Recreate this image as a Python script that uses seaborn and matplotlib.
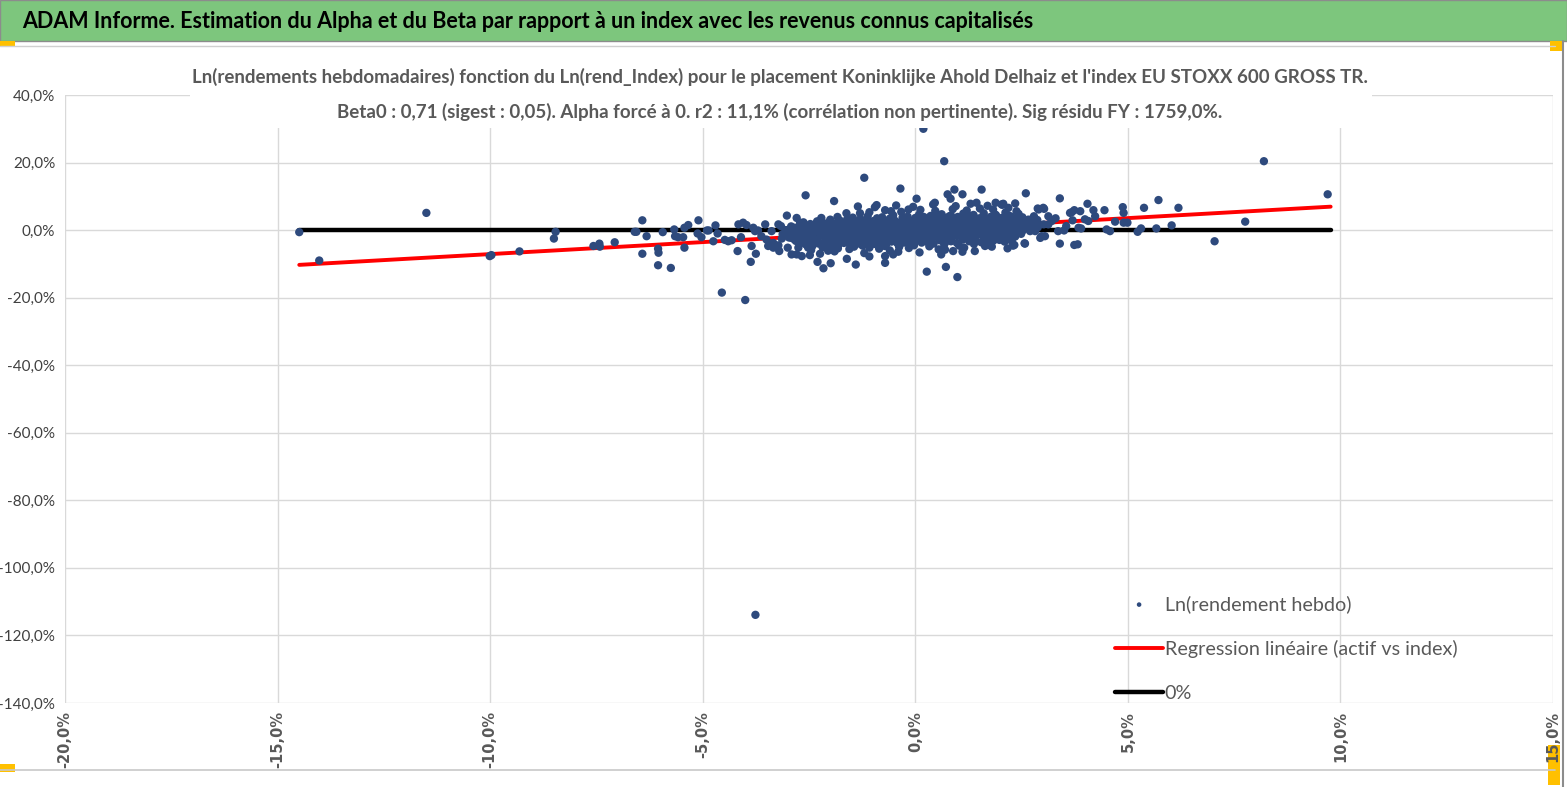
import matplotlib
matplotlib.use('Agg')
import matplotlib.pyplot as plt
from matplotlib.patches import Rectangle
from matplotlib.lines import Line2D
from matplotlib.ticker import FuncFormatter
import pandas as pd
import seaborn as sns

# weekly log returns of the index (x, %) and of the asset (y, %)
# dense cloud around zero
cloud_x = [
    -1.62, -1.08, -0.71, -0.33, 0.12, 0.47, 0.88, 1.21, 1.52, 1.83, 2.19,
    -2.21, -1.83, -1.47, -1.12, -0.78, -0.52, -0.18, 0.09, 0.36, 0.62, 0.84, 1.13, 1.37, 1.61, 1.88, 2.12, 2.43,
    -2.63, -2.31, -2.02, -1.77, -1.49, -1.26, -0.98, -0.77, -0.49, -0.24, 0.03, 0.27, 0.52, 0.73, 1.02, 1.24,
    1.51, 1.77, 2.03, 2.26, 2.52, 2.79,
    -2.92, -2.66, -2.41, -2.14, -1.91, -1.63, -1.42, -1.16, -0.89, -0.66, -0.41, -0.13, 0.11, 0.34, 0.62, 0.86,
    1.09, 1.36, 1.58, 1.87, 2.11, 2.34, 2.61, 2.87,
    -3.04, -2.77, -2.49, -2.26, -1.98, -1.74, -1.51, -1.24, -1.01, -0.74, -0.52, -0.26, 0.02, 0.24, 0.51, 0.76,
    0.99, 1.26, 1.49, 1.77, 2.01, 2.24, 2.52, 2.74, 3.02,
    -3.12, -2.88, -2.61, -2.37, -2.12, -1.86, -1.63, -1.37, -1.12, -0.88, -0.63, -0.37, -0.11, 0.13, 0.38, 0.64,
    0.87, 1.12, 1.38, 1.63, 1.88, 2.13, 2.37, 2.62, 2.88,
    -2.97, -2.72, -2.46, -2.23, -1.97, -1.72, -1.48, -1.23, -0.97, -0.73, -0.48, -0.22, 0.03, 0.27, 0.53, 0.77,
    1.02, 1.27, 1.52, 1.77, 2.02, 2.27, 2.53, 2.78,
    -2.81, -2.54, -2.29, -2.03, -1.79, -1.53, -1.28, -1.04, -0.79, -0.53, -0.29, -0.04, 0.21, 0.46, 0.71, 0.96,
    1.21, 1.47, 1.72, 1.96, 2.22, 2.49,
    -2.58, -2.27, -1.96, -1.68, -1.38, -1.09, -0.82, -0.56, -0.27, 0.01, 0.29, 0.57, 0.84, 1.12, 1.41, 1.69,
    1.98, 2.24,
    -2.18, -1.82, -1.44, -1.08, -0.72, -0.38, -0.03, 0.33, 0.68, 1.03, 1.38, 1.74,
    -1.9, -1.2, -0.6, 0.1, 0.7, 1.4,
    -1.35, -0.95, -0.45, -0.05, 0.42, 0.95, 1.3, 1.7, 2.05, 2.35,
    -2.45, -2.05, -1.55, -0.85, -0.15, 0.55, 1.15, 1.8, 2.3,
    -2.0, -1.6, -1.3, -0.9, -0.6, -0.3, 0.0, 0.2, 0.5, 0.8, 1.0, 1.3, 1.6, 1.9, 2.2,
    -2.47, -2.16, -1.89, -1.63, -1.37, -1.12, -0.87, -0.63, -0.36, -0.11, 0.15, 0.39, 0.62, 0.88, 1.13, 1.38,
    1.64, 1.9, 2.14, 2.39, 2.66,
    -2.79, -2.53, -2.27, -2.02, -1.77, -1.52, -1.29, -1.02, -0.77, -0.53, -0.27, -0.01, 0.23, 0.48, 0.74, 0.97,
    1.22, 1.47, 1.72, 1.99, 2.22, 2.48, 2.74,
    -2.9, -2.63, -2.37, -2.12, -1.86, -1.62, -1.37, -1.12, -0.87, -0.63, -0.39, -0.12, 0.13, 0.38, 0.63, 0.88,
    1.12, 1.37, 1.63, 1.89, 2.12, 2.38, 2.63, 2.88,
    -3.0, -2.74, -2.49, -2.24, -1.99, -1.74, -1.5, -1.24, -1.0, -0.75, -0.5, -0.24, 0.01, 0.26, 0.51, 0.76,
    1.0, 1.25, 1.5, 1.76, 2.0, 2.25, 2.5, 2.75,
    -2.85, -2.59, -2.35, -2.1, -1.85, -1.6, -1.36, -1.1, -0.85, -0.6, -0.35, -0.1, 0.15, 0.4, 0.65, 0.9,
    1.15, 1.4, 1.65, 1.9, 2.15, 2.4,
    -2.68, -2.42, -2.16, -1.91, -1.66, -1.41, -1.16, -0.92, -0.66, -0.41, -0.16, 0.09, 0.34, 0.59, 0.84, 1.09,
    1.34, 1.6, 1.84, 2.09, 2.35,
    -2.42, -2.12, -1.82, -1.53, -1.24, -0.96, -0.69, -0.42, -0.13, 0.15, 0.43, 0.71, 0.98, 1.27, 1.55, 1.84, 2.1,
]
cloud_y = [
    5.0, 5.3, 5.9, 5.4, 6.0, 5.7, 6.2, 5.8, 6.4, 6.1, 6.6,
    3.6, 3.9, 3.7, 4.1, 3.8, 4.4, 4.0, 4.6, 4.2, 4.7, 4.3, 4.9, 4.5, 5.0, 4.6, 5.2, 4.8,
    2.3, 2.6, 2.4, 2.8, 2.5, 3.0, 2.7, 3.1, 2.9, 3.3, 3.0, 3.4, 3.2, 3.6, 3.3, 3.7,
    3.5, 3.9, 3.6, 4.0, 3.8, 4.1,
    1.1, 1.4, 1.2, 1.6, 1.3, 1.7, 1.5, 1.9, 1.6, 2.0, 1.8, 2.2, 1.9, 2.3, 2.1, 2.5,
    2.2, 2.6, 2.4, 2.8, 2.5, 2.9, 2.7, 3.0,
    0.0, 0.3, 0.1, 0.5, 0.2, 0.6, 0.4, 0.8, 0.5, 0.9, 0.7, 1.1, 0.8, 1.2, 1.0, 1.4,
    1.1, 1.5, 1.3, 1.7, 1.4, 1.8, 1.6, 1.9, 1.7,
    -1.2, -0.9, -1.1, -0.7, -1.0, -0.5, -0.8, -0.3, -0.6, -0.1, -0.4, 0.1, -0.2, 0.3, 0.0, 0.5,
    0.2, 0.6, 0.4, 0.8, 0.5, 0.9, 0.7, 1.0, 0.8,
    -2.2, -1.9, -2.1, -1.7, -1.9, -1.5, -1.7, -1.3, -1.5, -1.1, -1.3, -0.9, -1.1, -0.7, -0.9, -0.5,
    -0.7, -0.3, -0.5, -0.1, -0.3, 0.1, -0.1, 0.2,
    -3.2, -3.0, -3.3, -2.8, -3.0, -2.6, -2.8, -2.4, -2.6, -2.2, -2.4, -2.0, -2.2, -1.8, -2.0, -1.6,
    -1.8, -1.4, -1.6, -1.2, -1.4, -1.1,
    -4.2, -4.0, -4.4, -3.8, -4.1, -3.6, -3.9, -3.4, -3.7, -3.2, -3.5, -3.0, -3.3, -2.8, -3.1, -2.6,
    -2.9, -2.5,
    -5.1, -5.4, -4.9, -5.2, -4.7, -5.0, -4.5, -4.8, -4.3, -4.6, -4.1, -4.4,
    -6.3, -6.8, -6.0, -6.6, -5.8, -6.2,
    7.0, 6.8, 7.3, 6.9, 7.6, 7.1, 7.8, 7.2, 7.5, 7.9,
    -5.9, -6.1, -5.6, -5.5, -5.3, -5.7, -5.2, -4.9, -4.6,
    3.1, 3.3, 3.2, 3.5, 3.4, 3.7, 3.6, 3.9, 3.8, 4.1, 3.9, 4.2, 4.1, 4.4, 4.3,
    1.8, 2.1, 1.9, 2.3, 2.0, 2.4, 2.2, 2.6, 2.3, 2.7, 2.5, 2.8, 2.6, 3.0, 2.7, 3.1,
    2.9, 3.2, 3.0, 3.4, 3.1,
    0.6, 0.9, 0.7, 1.1, 0.8, 1.2, 1.0, 1.4, 1.1, 1.5, 1.3, 1.7, 1.4, 1.8, 1.6, 2.0,
    1.7, 2.1, 1.9, 2.3, 2.0, 2.4, 2.2,
    -0.6, -0.3, -0.5, -0.1, -0.4, 0.0, -0.2, 0.3, 0.0, 0.4, 0.2, 0.6, 0.3, 0.7, 0.5, 0.9,
    0.6, 1.0, 0.8, 1.2, 0.9, 1.3, 1.1, 1.4,
    -1.7, -1.4, -1.6, -1.2, -1.5, -1.0, -1.3, -0.8, -1.1, -0.6, -0.9, -0.4, -0.7, -0.2, -0.5, 0.0,
    -0.3, 0.2, -0.1, 0.3, 0.0, 0.5, 0.2, 0.4,
    -2.7, -2.5, -2.6, -2.3, -2.4, -2.1, -2.2, -1.9, -2.0, -1.7, -1.8, -1.5, -1.6, -1.3, -1.4, -1.1,
    -1.2, -0.9, -1.0, -0.7, -0.8, -0.6,
    -3.7, -3.5, -3.8, -3.3, -3.5, -3.1, -3.3, -2.9, -3.1, -2.7, -2.9, -2.5, -2.7, -2.3, -2.5, -2.1,
    -2.3, -1.9, -2.1, -1.8, -1.9,
    -4.7, -4.5, -4.8, -4.3, -4.6, -4.1, -4.4, -3.9, -4.2, -3.7, -4.0, -3.5, -3.8, -3.3, -3.6, -3.1, -3.4,
]

# scattered weeks away from the cloud
spread_x = [
    -14.49, -14.02, -11.5, -10.01, -9.97, -9.31, -8.5, -8.46,
    -7.57, -7.43, -7.42, -7.07, -6.6, -6.56, -6.42, -6.32, -6.42, -6.05, -6.04, -6.05, -5.75, -5.94,
    -5.67, -5.65, -5.58, -5.46, -5.43, -5.43, -5.34, -5.1, -5.12, -5.03, -4.9, -4.86, -4.75, -4.7,
    -4.65, -4.55, -4.48, -4.4, -4.32, -4.18, -4.16, -4.05, -4.1, -4.0, -3.97, -3.85, -3.87, -3.75,
    -3.81, -3.77, -3.7, -3.62, -3.53, -3.5, -3.46, -3.38, -3.34, -3.22, -3.2, -3.16, -3.11, -3.02,
    -3.0, -2.91, -2.83, -2.79, -3.76, -3.42, -3.34, -3.14, -2.75, -2.52, -2.5, -3.22, -2.79, -2.71,
    -2.91, -2.67, -2.48, -2.24,
    -2.58, -1.91, -1.2, -0.35, 0.19, 0.68, 0.92, 1.11, 0.76, 1.56, 2.6, 3.4, 0.03, -1.3, -0.91,
    -0.57, -0.16, 0.46, 0.83, 1.44, 1.89, 2.07, 2.88, 3.01, 3.68, 2.03, 2.38, 4.05,
    0.27, 0.72, 0.99, -2.16, -2.3, -1.61, -1.4, -1.99, -0.71, -0.71, -0.52, -0.4, -1.08, 0.61,
    0.89, 1.11, 1.64, 2.17, 2.58, 3.4, 3.74, 3.05, 2.33, 2.57, 3.82,
    2.9, 3.03, 3.13, 3.36, 3.5, 3.64, 3.74, 3.88, 3.9, 3.99, 4.07, 4.19, 4.23, 4.45, 4.5, 4.58,
    4.7, 4.88, 4.9, 4.9, 4.99, 5.23, 5.31, 5.38, 5.67, 5.72, 6.03, 6.19, 7.04, 7.76, 8.2, 9.7,
    3.84, 2.46, 2.66, 2.74, 2.82, 2.7, 2.94, 2.97, 3.13, 3.21, 2.03, 2.11, 2.27, 2.82, 3.3, 3.55, 3.7,
]
spread_y = [
    -0.6, -9.0, 5.1, -7.7, -7.4, -6.3, -2.5, -0.5,
    -4.7, -4.0, -4.9, -3.6, -0.5, -0.5, 2.9, -1.8, -7.0, -5.5, -6.7, -10.4, -11.2, -0.6,
    0.2, -1.8, -2.1, -2.1, -5.2, 0.7, 1.5, 2.9, -1.0, -2.1, -0.1, -0.1, -3.3, 1.4,
    -1.0, -18.5, -2.9, -3.3, -3.0, -6.2, 1.7, 2.2, -2.1, -20.7, 1.5, -4.7, -9.4, -7.0,
    0.7, -0.3, -0.1, -1.8, 1.7, -2.8, -4.7, -0.3, -3.8, 1.7, -6.2, 1.2, -1.3, 4.3,
    -5.2, -2.3, 0.7, -7.2, -113.9, -4.0, -5.2, -2.5, -5.2, -5.2, -3.3, -4.5, 3.6, 2.2,
    -7.2, -7.7, -7.4, -7.0,
    10.3, 8.6, 15.5, 12.3, 30.0, 20.4, 12.0, 10.6, 10.6, 12.0, 10.9, 9.4, 9.3, 5.0, 7.4,
    5.6, 6.1, 8.1, 9.3, 8.1, 8.1, 7.8, 6.4, 6.6, 5.3, 7.6, 5.6, 7.8,
    -12.3, -10.9, -13.9, -11.3, -9.4, -8.5, -10.2, -9.8, -9.7, -7.7, -7.2, -6.4, -7.8, -7.2,
    -6.2, -6.4, -4.7, -5.4, -4.0, -4.0, -4.4, -1.8, -4.4, -3.9, -4.2,
    6.1, 6.3, 4.1, -0.3, -0.1, 5.1, 5.9, 5.6, 0.5, 3.2, 2.7, 5.9, 4.1, 5.9, 0.2, -0.3,
    2.5, 6.8, 5.1, 2.2, 2.2, -0.5, 0.5, 6.6, 0.5, 8.9, 1.4, 6.6, -3.3, 2.5, 20.4, 10.6,
    0.7, 3.6, 2.7, 1.7, 0.7, -0.3, -2.3, -1.8, 1.7, 2.7, -1.3, -2.8, -3.3, -0.3, 3.5, 1.2, 2.9,
]

# regression (beta 0.71, alpha forced to 0) and the 0% reference, end points
reg_x = [-14.49, 9.77]
reg_y = [-10.29, 6.94]
zero_x = [-14.49, 9.77]
zero_y = [0.0, 0.0]

x_ticks = [-20, -15, -10, -5, 0, 5, 10, 15]
y_ticks = [40, 20, 0, -20, -40, -60, -80, -100, -120, -140]

header = "ADAM Informe. Estimation du Alpha et du Beta par rapport à un index avec les revenus connus capitalisés"
sub1 = ("Ln(rendements hebdomadaires) fonction du Ln(rend_Index) pour le placement "
        "Koninklijke Ahold Delhaiz et l'index EU STOXX 600 GROSS TR.")
sub2 = ("Beta0 : 0,71 (sigest : 0,05). Alpha forcé à 0. r2 : 11,1% "
        "(corrélation non pertinente). Sig résidu FY : 1759,0%.")

df = pd.DataFrame({'index': cloud_x + spread_x, 'asset': cloud_y + spread_y})
reg = pd.DataFrame({'x': reg_x, 'y': reg_y})
zero = pd.DataFrame({'x': zero_x, 'y': zero_y})

sns.set_theme(style='white')
plt.rcParams['font.family'] = ['Lato', 'DejaVu Sans']

W, H = 1567, 787
fig = plt.figure(figsize=(W / 100, H / 100), dpi=100)
ax = fig.add_axes([65 / W, 1 - 703 / H, (1553 - 65) / W, (703 - 95) / H])

sns.scatterplot(data=df, x='index', y='asset', ax=ax, color='#2E4A7D', s=36,
                edgecolor='none', label='Ln(rendement hebdo)', zorder=4)
sns.lineplot(data=reg, x='x', y='y', ax=ax, color='#FF0000', lw=2.8,
             label='Regression linéaire (actif vs index)', zorder=3)
sns.lineplot(data=zero, x='x', y='y', ax=ax, color='black', lw=3.2,
             label='0%', zorder=2)

ax.set_xlim(-20, 15)
ax.set_ylim(-140, 40)
ax.set_xticks(x_ticks)
ax.set_yticks(y_ticks)
pct = FuncFormatter(lambda v, p: f"{v:.1f}%".replace('.', ','))
ax.xaxis.set_major_formatter(pct)
ax.yaxis.set_major_formatter(pct)
ax.set_xlabel('')
ax.set_ylabel('')
ax.grid(True, color='#D9D9D9', lw=1)
ax.set_axisbelow(True)
for s in ax.spines.values():
    s.set_visible(False)
ax.tick_params(axis='x', rotation=90, pad=6, labelsize=10.5, labelcolor='#595959', length=0)
for t in ax.get_xticklabels():
    t.set_family('DejaVu Sans')
    t.set_fontweight('bold')
ax.tick_params(axis='y', labelsize=11, labelcolor='#404040', length=0, pad=7)

leg = ax.legend(loc='lower left', bbox_to_anchor=(0.694, -0.028), frameon=False,
                fontsize=14.2, labelcolor='#595959', handlelength=2.4,
                handletextpad=0.1, labelspacing=1.38, markerscale=0.55)

# white box of the chart title, hiding the grid behind it
fig.patches.append(Rectangle((190 / W, 1 - 128 / H), (1372 - 190) / W, (128 - 56) / H,
                             transform=fig.transFigure, facecolor='white',
                             edgecolor='none', zorder=1.5))
ax.set_zorder(1)
fig.text(780 / W, 1 - 77 / H, sub1, ha='center', va='center', fontsize=13.5,
         fontweight='bold', color='#595959')
fig.text(780 / W, 1 - 112 / H, sub2, ha='center', va='center', fontsize=13.5,
         fontweight='bold', color='#595959')

# green report header and the sheet frame
fig.patches.append(Rectangle((0, 1 - 41 / H), 1, 41 / H, transform=fig.transFigure,
                             facecolor='#7DC67D', edgecolor='#8C8C8C', lw=1, zorder=0))
fig.text(22 / W, 1 - 21 / H, header, ha='left', va='center', fontsize=15.5,
         fontweight='bold', color='black')
fig.lines.append(Line2D([0, 1555 / W], [1 - 46 / H] * 2, transform=fig.transFigure,
                        color='#D0D0D0', lw=1))
fig.lines.append(Line2D([0, 1555 / W], [1 - 770 / H] * 2, transform=fig.transFigure,
                        color='#C8C8C8', lw=1.2))
fig.lines.append(Line2D([1563 / W] * 2, [0, 1 - 41 / H], transform=fig.transFigure,
                        color='#8C8C8C', lw=1.5))
for (x0, y0, w, h) in [(0, 41, 15, 6), (1550, 41, 12, 10), (0, 764, 15, 8), (1548, 745, 12, 40)]:
    fig.patches.append(Rectangle((x0 / W, 1 - (y0 + h) / H), w / W, h / H,
                                 transform=fig.transFigure, facecolor='#FFC000',
                                 edgecolor='none', zorder=0.5))

fig.savefig('out.png', dpi=100)
